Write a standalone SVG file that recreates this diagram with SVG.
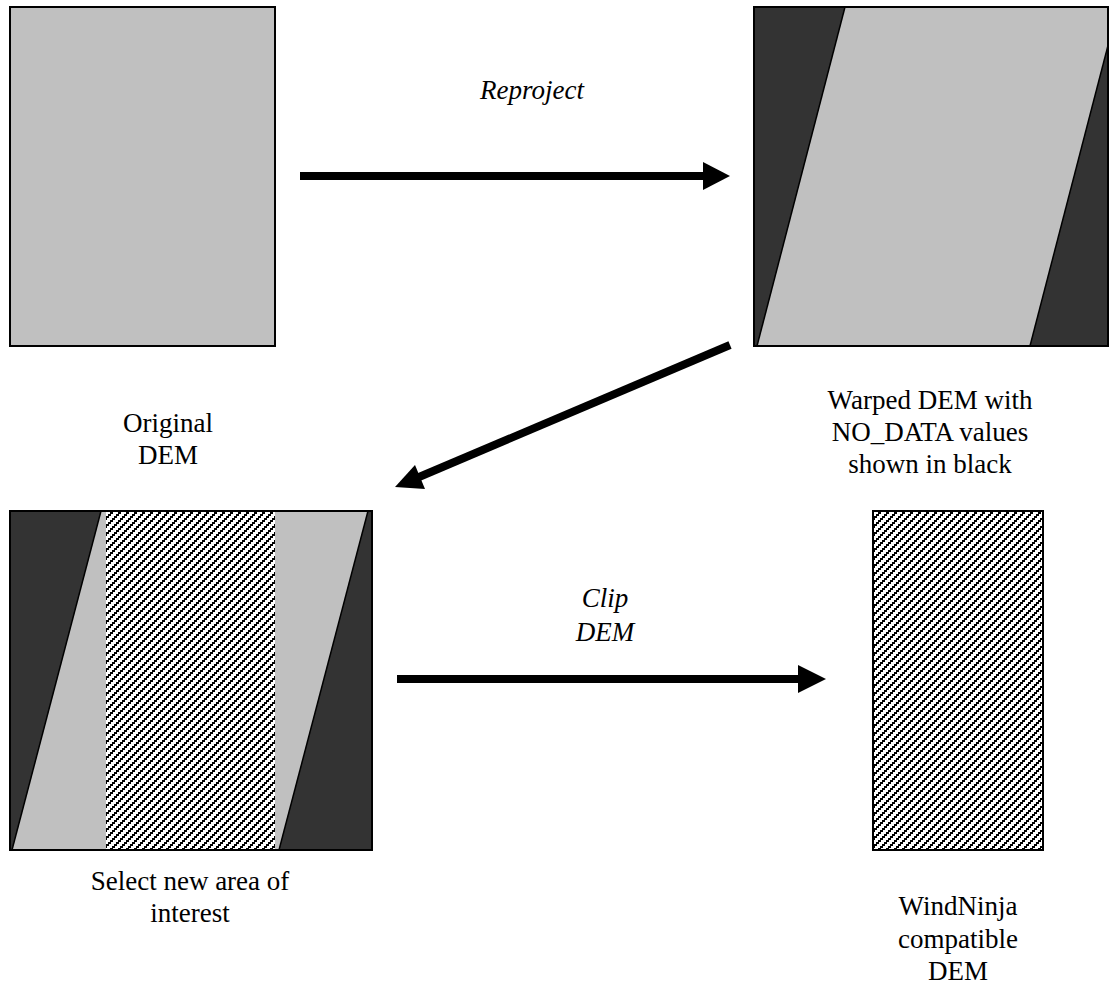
<svg xmlns="http://www.w3.org/2000/svg" width="1110" height="995" viewBox="0 0 1110 995">
<style>
.lbl{font-family:"Liberation Serif","Times New Roman",serif;font-size:27px;fill:#000;text-anchor:middle}
.it{font-style:italic}
.box{stroke:#000;stroke-width:2}
.grey{fill:#c0c0c0}
.dark{fill:#333333}
.edge{fill:none;stroke:#000;stroke-width:1.5}
.shaft{stroke:#000;stroke-width:8;fill:none}
</style>
<defs>
<pattern id="hatch" patternUnits="userSpaceOnUse" width="8" height="8" x="0" y="0">
<rect width="8" height="8" fill="#fff"/>
<rect x="0" y="6" width="3" height="2" fill="#000"/>
<rect x="2" y="4" width="3" height="2" fill="#000"/>
<rect x="4" y="2" width="3" height="2" fill="#000"/>
<rect x="6" y="0" width="2" height="2" fill="#000"/>
<rect x="0" y="0" width="1" height="2" fill="#000"/>
</pattern>
<clipPath id="cTR"><rect x="754" y="7" width="354" height="339"/></clipPath>
<clipPath id="cBL"><rect x="10" y="511" width="362" height="339"/></clipPath>
</defs>

<g id="original-dem">
<rect class="box grey" x="10" y="7" width="265" height="339"/>
<text class="lbl" x="168" y="432">Original</text>
<text class="lbl" x="168" y="464">DEM</text>
</g>

<g id="warped-dem">
<rect class="dark" x="754" y="7" width="354" height="339"/>
<g clip-path="url(#cTR)">
<polygon class="grey" points="845,7 1118,7 1030,346 757,346"/>
<line class="edge" x1="845" y1="7" x2="757" y2="346"/>
<line class="edge" x1="1118" y1="7" x2="1030" y2="346"/>
</g>
<rect class="box" fill="none" x="754" y="7" width="354" height="339"/>
<text class="lbl" x="930" y="409">Warped DEM with</text>
<text class="lbl" x="930" y="441">NO_DATA values</text>
<text class="lbl" x="930" y="473">shown in black</text>
</g>

<g id="select-area">
<rect class="dark" x="10" y="511" width="362" height="339"/>
<g clip-path="url(#cBL)">
<polygon class="grey" points="101,511 368,511 279,850 12,850"/>
<line class="edge" x1="101" y1="511" x2="12" y2="850"/>
<line class="edge" x1="368" y1="511" x2="279" y2="850"/>
</g>
<rect x="106" y="512" width="169" height="337" fill="url(#hatch)" shape-rendering="crispEdges"/>
<rect class="box" fill="none" x="10" y="511" width="362" height="339"/>
<text class="lbl" x="190" y="890">Select new area of</text>
<text class="lbl" x="190" y="922">interest</text>
</g>

<g id="windninja-dem">
<rect class="box" fill="url(#hatch)" x="873" y="511" width="170" height="339" shape-rendering="crispEdges"/>
<text class="lbl" x="958" y="915">WindNinja</text>
<text class="lbl" x="958" y="948">compatible</text>
<text class="lbl" x="958" y="980">DEM</text>
</g>

<g id="connectors">
<line class="shaft" x1="300" y1="176" x2="705" y2="176"/>
<polygon points="703,162 730,176 703,190" fill="#000"/>
<text class="lbl it" x="532" y="99">Reproject</text>

<line class="shaft" x1="730" y1="345" x2="412" y2="480"/>
<polygon points="395,487 415,465 425,489" fill="#000"/>

<line class="shaft" x1="397" y1="679" x2="800" y2="679"/>
<polygon points="798,665 826,679 798,693" fill="#000"/>
<text class="lbl it" x="605" y="607">Clip</text>
<text class="lbl it" x="605" y="641">DEM</text>
</g>
</svg>
